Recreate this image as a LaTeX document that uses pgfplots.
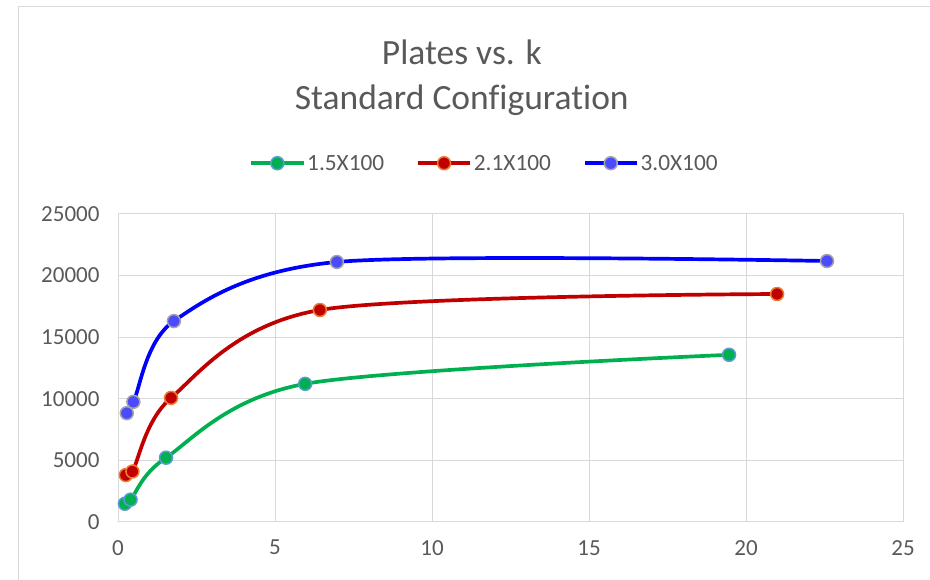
\documentclass[border=0pt]{standalone}
\usepackage{pgfplots}
\pgfplotsset{compat=1.18}
\usepackage{fontspec}
\setmainfont{Carlito}[Ligatures={NoCommon,NoRare}]
\definecolor{txt}{HTML}{595959}
\definecolor{gridc}{HTML}{D9D9D9}
\definecolor{gc}{HTML}{00B050}
\definecolor{gb}{HTML}{5B9BD5}
\definecolor{rc}{HTML}{C00000}
\definecolor{rb}{HTML}{ED7D31}
\definecolor{bc}{HTML}{0000FF}
\definecolor{bf}{HTML}{4A4AFF}
\definecolor{bb}{HTML}{A5A5A5}
\begin{document}
\begin{tikzpicture}
\path[use as bounding box] (0pt,0pt) rectangle (930pt,579pt);
\draw[gridc, line width=1pt] (18pt,-5pt) rectangle (940pt,572pt);
\begin{axis}[
 at={(118pt,57.3pt)}, anchor=south west, scale only axis, width=785pt, height=307.7pt,
 xmin=0, xmax=25, ymin=0, ymax=25000,
 xtick={0,5,...,25}, ytick={0,5000,...,25000},
 grid=major, grid style={gridc, line width=1pt},
 axis line style={gridc, line width=1pt},
 major tick length=0pt,
 tick label style={font=\fontsize{23}{28}\selectfont, color=txt},
 /pgf/number format/assume math mode=true,
 /pgf/number format/set thousands separator={},
 scaled y ticks=false,
 yticklabel style={xshift=-15pt},
 xticklabel style={yshift=-15pt},
 title={Plates vs. k\\Standard Configuration},
 title style={at={(0.438,1.547)}, anchor=north, align=center, font=\fontsize{35.5}{45}\selectfont, color=txt, inner sep=0pt},
 legend style={at={(0.467,1.165)}, anchor=center, draw=none, fill=none, legend columns=3, font=\fontsize{23.3}{28}\selectfont, text=txt, /tikz/every even column/.append style={column sep=30pt}},
 legend image code/.code={\draw[mark repeat=2, mark phase=2, #1] plot coordinates {(0pt,0pt) (26pt,0pt) (52pt,0pt)};},
 clip=false,
]
\addplot[gc, line width=3.7pt, smooth, mark=*, mark size=6.5pt, mark options={fill=gc, draw=gb, line width=1.5pt}] coordinates {(0.22,1460)(0.40,1790)(1.53,5200)(5.96,11200)(19.46,13560)};
\addlegendentry{1.5X100}
\addplot[rc, line width=3.7pt, smooth, mark=*, mark size=6.5pt, mark options={fill=rc, draw=rb, line width=1.5pt}] coordinates {(0.25,3790)(0.46,4080)(1.69,10060)(6.43,17200)(20.99,18500)};
\addlegendentry{2.1X100}
\addplot[bc, line width=3.7pt, smooth, mark=*, mark size=6.5pt, mark options={fill=bf, draw=bb, line width=1.5pt}] coordinates {(0.28,8820)(0.49,9740)(1.78,16300)(6.97,21100)(22.58,21180)};
\addlegendentry{3.0X100}
\end{axis}
\end{tikzpicture}
\end{document}
